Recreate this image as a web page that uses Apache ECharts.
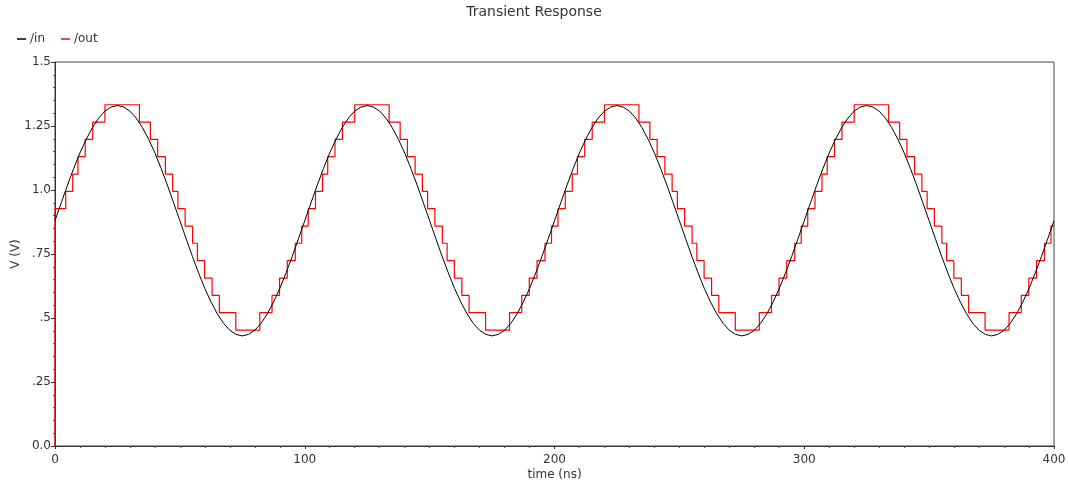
<!DOCTYPE html>
<html>
<head>
<meta charset="utf-8">
<script src="https://cdn.jsdelivr.net/npm/echarts@6/dist/echarts.min.js"></script>
<style>
html,body{margin:0;padding:0;background:#fff;}
#chart{width:1068px;height:486px;}
</style>
</head>
<body>
<div id="chart"></div>
<script>
// ---- data ----
var chartTitle = 'Transient Response';
var seriesNames = ['/in', '/out'];
var xTicks = [0, 100, 200, 300, 400];
var yTickValues = [0, 0.25, 0.5, 0.75, 1.0, 1.25, 1.5];
var yTickLabels = ['0.0', '.25', '.5', '.75', '1.0', '1.25', '1.5'];

// /in : sampled sine (ns, V)
var inTime = [
0,2.5,5,7.5,10,12.5,15,17.5,20,22.5,25,27.5,30,32.5,35,37.5,40,42.5,45,47.5,
50,52.5,55,57.5,60,62.5,65,67.5,70,72.5,75,77.5,80,82.5,85,87.5,90,92.5,95,97.5,
100,102.5,105,107.5,110,112.5,115,117.5,120,122.5,125,127.5,130,132.5,135,137.5,140,142.5,145,147.5,
150,152.5,155,157.5,160,162.5,165,167.5,170,172.5,175,177.5,180,182.5,185,187.5,190,192.5,195,197.5,
200,202.5,205,207.5,210,212.5,215,217.5,220,222.5,225,227.5,230,232.5,235,237.5,240,242.5,245,247.5,
250,252.5,255,257.5,260,262.5,265,267.5,270,272.5,275,277.5,280,282.5,285,287.5,290,292.5,295,297.5,
300,302.5,305,307.5,310,312.5,315,317.5,320,322.5,325,327.5,330,332.5,335,337.5,340,342.5,345,347.5,
350,352.5,355,357.5,360,362.5,365,367.5,370,372.5,375,377.5,380,382.5,385,387.5,390,392.5,395,397.5,
400];
var inV = [
0.880,0.950,1.019,1.084,1.145,1.198,1.244,1.281,1.308,1.324,1.330,1.324,1.308,1.281,1.244,1.198,1.145,1.084,1.019,0.950,
0.880,0.810,0.741,0.676,0.615,0.562,0.516,0.479,0.452,0.436,0.430,0.436,0.452,0.479,0.516,0.562,0.615,0.676,0.741,0.810,
0.880,0.950,1.019,1.084,1.145,1.198,1.244,1.281,1.308,1.324,1.330,1.324,1.308,1.281,1.244,1.198,1.145,1.084,1.019,0.950,
0.880,0.810,0.741,0.676,0.615,0.562,0.516,0.479,0.452,0.436,0.430,0.436,0.452,0.479,0.516,0.562,0.615,0.676,0.741,0.810,
0.880,0.950,1.019,1.084,1.145,1.198,1.244,1.281,1.308,1.324,1.330,1.324,1.308,1.281,1.244,1.198,1.145,1.084,1.019,0.950,
0.880,0.810,0.741,0.676,0.615,0.562,0.516,0.479,0.452,0.436,0.430,0.436,0.452,0.479,0.516,0.562,0.615,0.676,0.741,0.810,
0.880,0.950,1.019,1.084,1.145,1.198,1.244,1.281,1.308,1.324,1.330,1.324,1.308,1.281,1.244,1.198,1.145,1.084,1.019,0.950,
0.880,0.810,0.741,0.676,0.615,0.562,0.516,0.479,0.452,0.436,0.430,0.436,0.452,0.479,0.516,0.562,0.615,0.676,0.741,0.810,
0.880];

// /out : quantized staircase (time where a level starts, level)
var outTime = [
0,0,4.3,7.1,9.2,12.1,15.1,20.0,33.8,38.2,41.1,44.2,47.1,49.2,52.1,55.1,57.0,59.9,62.9,65.8,72.4,82.0,86.9,89.9,93.0,96.2,98.8,
101.4,104.3,107.1,109.2,112.1,115.1,120.0,133.8,138.2,141.1,144.2,147.1,149.2,152.1,155.1,157.0,159.9,162.9,165.8,172.4,182.0,186.9,189.9,193.0,196.2,198.8,
201.4,204.3,207.1,209.2,212.1,215.1,220.0,233.8,238.2,241.1,244.2,247.1,249.2,252.1,255.1,257.0,259.9,262.9,265.8,272.4,282.0,286.9,289.9,293.0,296.2,298.8,
301.4,304.3,307.1,309.2,312.1,315.1,320.0,333.8,338.2,341.1,344.2,347.1,349.2,352.1,355.1,357.0,359.9,362.9,365.8,372.4,382.0,386.9,389.9,393.0,396.2,398.8,
400];
var outV = [
0,0.927,0.995,1.062,1.130,1.198,1.265,1.333,1.265,1.198,1.130,1.062,0.995,0.927,0.859,0.792,0.724,0.656,0.588,0.521,0.453,0.521,0.588,0.656,0.724,0.792,0.859,
0.927,0.995,1.062,1.130,1.198,1.265,1.333,1.265,1.198,1.130,1.062,0.995,0.927,0.859,0.792,0.724,0.656,0.588,0.521,0.453,0.521,0.588,0.656,0.724,0.792,0.859,
0.927,0.995,1.062,1.130,1.198,1.265,1.333,1.265,1.198,1.130,1.062,0.995,0.927,0.859,0.792,0.724,0.656,0.588,0.521,0.453,0.521,0.588,0.656,0.724,0.792,0.859,
0.927,0.995,1.062,1.130,1.198,1.265,1.333,1.265,1.198,1.130,1.062,0.995,0.927,0.859,0.792,0.724,0.656,0.588,0.521,0.453,0.521,0.588,0.656,0.724,0.792,0.859,
0.859];

// ---- build ----
function pairs(xs, ys){ var r=[]; for(var i=0;i<xs.length;i++) r.push([xs[i], ys[i]]); return r; }
var FONT = 'DejaVu Sans';
var TXT = '#333333';
var chart = echarts.init(document.getElementById('chart'), null, {renderer:'canvas'});
chart.setOption({
  animation: false,
  backgroundColor: '#ffffff',
  title: {
    text: chartTitle, left: 'center', top: 0,
    textStyle: {fontFamily: FONT, fontSize: 14, fontWeight: 'normal', color: TXT}
  },
  legend: {
    data: seriesNames, left: 12, top: 28, itemWidth: 9, itemHeight: 1.5, itemGap: 16,
    icon: 'rect',
    textStyle: {fontFamily: FONT, fontSize: 12, color: TXT, padding: [0,0,0,-1]}
  },
  grid: {left: 55, right: 14, top: 62, bottom: 40, containLabel: false, outerBoundsMode: 'none',
         show: true, borderColor: '#444', borderWidth: 1, backgroundColor: 'transparent'},
  xAxis: {
    type: 'value', min: xTicks[0], max: xTicks[xTicks.length-1], interval: 100,
    name: 'time (ns)', nameLocation: 'middle', nameGap: 23, nameMoveOverlap: false,
    nameTextStyle: {fontFamily: FONT, fontSize: 12, color: TXT},
    axisLine: {show: true, lineStyle: {color: '#333', width: 1}},
    axisTick: {show: true, length: 3, lineStyle: {color: '#333'}},
    minorTick: {show: true, splitNumber: 10, length: 2, lineStyle: {color: '#555'}},
    axisLabel: {fontFamily: FONT, fontSize: 12, color: TXT, margin: 8},
    splitLine: {show: false}
  },
  yAxis: {
    type: 'value', min: 0, max: 1.5, interval: 0.25,
    name: 'V (V)', nameLocation: 'middle', nameGap: 33, nameRotate: 90, nameMoveOverlap: false,
    nameTextStyle: {fontFamily: FONT, fontSize: 12, color: TXT},
    axisLine: {show: true, lineStyle: {color: '#333', width: 1}},
    axisTick: {show: true, length: 4, lineStyle: {color: '#333'}},
    minorTick: {show: true, splitNumber: 5, length: 2, lineStyle: {color: '#555'}},
    axisLabel: {fontFamily: FONT, fontSize: 12, color: TXT, margin: 4,
      formatter: function(v){ for (var i=0;i<yTickValues.length;i++){ if (Math.abs(v-yTickValues[i])<1e-9) return yTickLabels[i]; } return ''; }},
    splitLine: {show: false}
  },
  series: [
    {
      name: seriesNames[1], type: 'line', data: pairs(outTime, outV), step: 'end',
      showSymbol: false, symbol: 'none', color: '#ff0000',
      lineStyle: {color: '#ff0000', width: 1.2}, z: 2
    },
    {
      name: seriesNames[0], type: 'line', data: pairs(inTime, inV),
      showSymbol: false, symbol: 'none', color: '#000000', smooth: false,
      lineStyle: {color: '#000000', width: 1}, z: 3
    }
  ]
});
</script>
</body>
</html>
